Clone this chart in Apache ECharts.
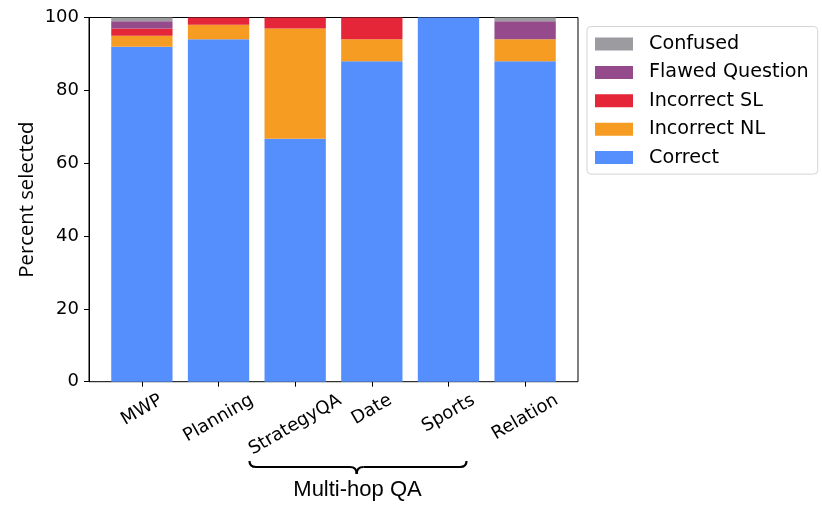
<!DOCTYPE html>
<html>
<head>
<meta charset="utf-8">
<script src="https://cdn.jsdelivr.net/npm/echarts@6/dist/echarts.min.js"></script>
<style>
html,body{margin:0;padding:0;background:#fff;}
#chart{width:822px;height:509px;}
</style>
</head>
<body>
<div id="chart"></div>
<script>
const categories = ['MWP', 'Planning', 'StrategyQA', 'Date', 'Sports', 'Relation'];
const correct = [92, 94, 66.7, 88, 100, 88];
const incorrectNL = [3, 4, 30.3, 6, 0, 6];
const incorrectSL = [2, 2, 3, 6, 0, 0];
const flawedQuestion = [2, 0, 0, 0, 0, 5];
const confused = [1, 0, 0, 0, 0, 1];
const yTicks = [0, 20, 40, 60, 80, 100];

const colors = {
  correct: '#558FFD',
  nl: '#F79C22',
  sl: '#E42638',
  flawed: '#954A8B',
  confused: '#9B9BA0'
};

const chart = echarts.init(document.getElementById('chart'), null, {renderer: 'canvas'});

// emulate matplotlib centred rotated tick labels (rotated bbox tops aligned)
const xFontSize = 18;
const ctx = document.createElement('canvas').getContext('2d');
ctx.font = xFontSize + 'px "DejaVu Sans"';
const xLineH = 21;
const xRich = {};
categories.forEach((c, i) => {
  const w = ctx.measureText(c).width;
  const D = w / 4;
  xRich['k' + i] = {
    padding: [1.732 * D, D, 0, 0],
    lineHeight: xLineH, fontSize: xFontSize,
    fontFamily: 'DejaVu Sans', color: '#000'
  };
});

const plotLeft = 89, plotRight = 578, plotTop = 17.5, plotH = 364.2;
const unit = (plotRight - plotLeft) / 6.38;
const g1Left = plotLeft + 0.69 * unit - unit / 2;

function bar(name, data, color) {
  return {
    name: name, type: 'bar', stack: 'total', data: data,
    xAxisIndex: 1, yAxisIndex: 1,
    barWidth: '80%',
    itemStyle: {color: color},
    emphasis: {disabled: true}
  };
}

const braceStyle = {stroke: '#000', lineWidth: 2.2, fill: null};
function curve(x1, y1, cx, cy, x2, y2) {
  return {type: 'bezierCurve', silent: true,
    shape: {x1: x1, y1: y1, cpx1: cx, cpy1: cy, x2: x2, y2: y2}, style: braceStyle};
}
function seg(x1, y1, x2, y2) {
  return {type: 'line', silent: true, shape: {x1: x1, y1: y1, x2: x2, y2: y2}, style: braceStyle};
}

const option = {
  animation: false,
  backgroundColor: '#fff',
  grid: [
    {left: plotLeft, top: plotTop, width: plotRight - plotLeft, height: plotH,
     show: true, borderColor: '#000', borderWidth: 1, backgroundColor: 'transparent', containLabel: false},
    {left: g1Left, top: plotTop, width: unit * 6, height: plotH, containLabel: false}
  ],
  xAxis: [
    {type: 'value', gridIndex: 0, show: false, min: 0, max: 1},
    {type: 'category', gridIndex: 1, data: categories,
     axisLine: {show: false},
     axisTick: {show: true, alignWithLabel: true, length: 5, lineStyle: {color: '#000', width: 1}},
     axisLabel: {interval: 0, rotate: 30, margin: 17.3, fontSize: xFontSize,
                 fontFamily: 'DejaVu Sans', color: '#000', align: 'center', verticalAlign: 'middle',
                 lineHeight: xLineH,
                 formatter: (v) => '{k' + categories.indexOf(v) + '|' + v + '}',
                 rich: xRich},
     splitLine: {show: false}}
  ],
  yAxis: [
    {type: 'value', gridIndex: 0, min: 0, max: 100, interval: 20,
     name: 'Percent selected', nameLocation: 'middle', nameGap: 52, nameMoveOverlap: false,
     nameTextStyle: {fontFamily: 'Open Sans', fontSize: 20.3, color: '#000'},
     axisLine: {show: true, lineStyle: {color: '#000', width: 1}},
     axisTick: {show: true, length: 5, lineStyle: {color: '#000', width: 1}},
     axisLabel: {margin: 10, fontSize: 18, fontFamily: 'DejaVu Sans', color: '#000',
                 formatter: v => yTicks.includes(v) ? String(v) : ''},
     splitLine: {show: false}},
    {type: 'value', gridIndex: 1, min: 0, max: 100, show: false}
  ],
  legend: {
    orient: 'vertical',
    left: 587, top: 26.5,
    data: ['Confused', 'Flawed Question', 'Incorrect SL', 'Incorrect NL', 'Correct'],
    icon: 'rect',
    itemWidth: 38, itemHeight: 13,
    itemGap: 8.4,
    padding: [7.5, 9, 6.5, 8],
    borderColor: '#d4d4d4', borderWidth: 1, borderRadius: 4,
    backgroundColor: '#fff',
    textStyle: {fontFamily: 'DejaVu Sans', fontSize: 19.2, color: '#000', lineHeight: 20, padding: [0, 0, 0, 11]},
    selectedMode: false
  },
  graphic: [
    curve(249.5, 461, 249.5, 467, 256, 467),
    seg(256, 467, 350, 467),
    curve(350, 467, 356.7, 467, 356.7, 474),
    curve(356.7, 474, 356.7, 467, 363.4, 467),
    seg(363.4, 467, 460, 467),
    curve(460, 467, 466.5, 467, 466.5, 461),
    {type: 'text', silent: true, x: 357.5, y: 490,
     style: {text: 'Multi-hop QA', fontFamily: 'Liberation Sans', fontSize: 22, fill: '#000',
             align: 'center', verticalAlign: 'middle'}}
  ],
  series: [
    bar('Correct', correct, colors.correct),
    bar('Incorrect NL', incorrectNL, colors.nl),
    bar('Incorrect SL', incorrectSL, colors.sl),
    bar('Flawed Question', flawedQuestion, colors.flawed),
    bar('Confused', confused, colors.confused)
  ]
};
chart.setOption(option);
</script>
</body>
</html>
